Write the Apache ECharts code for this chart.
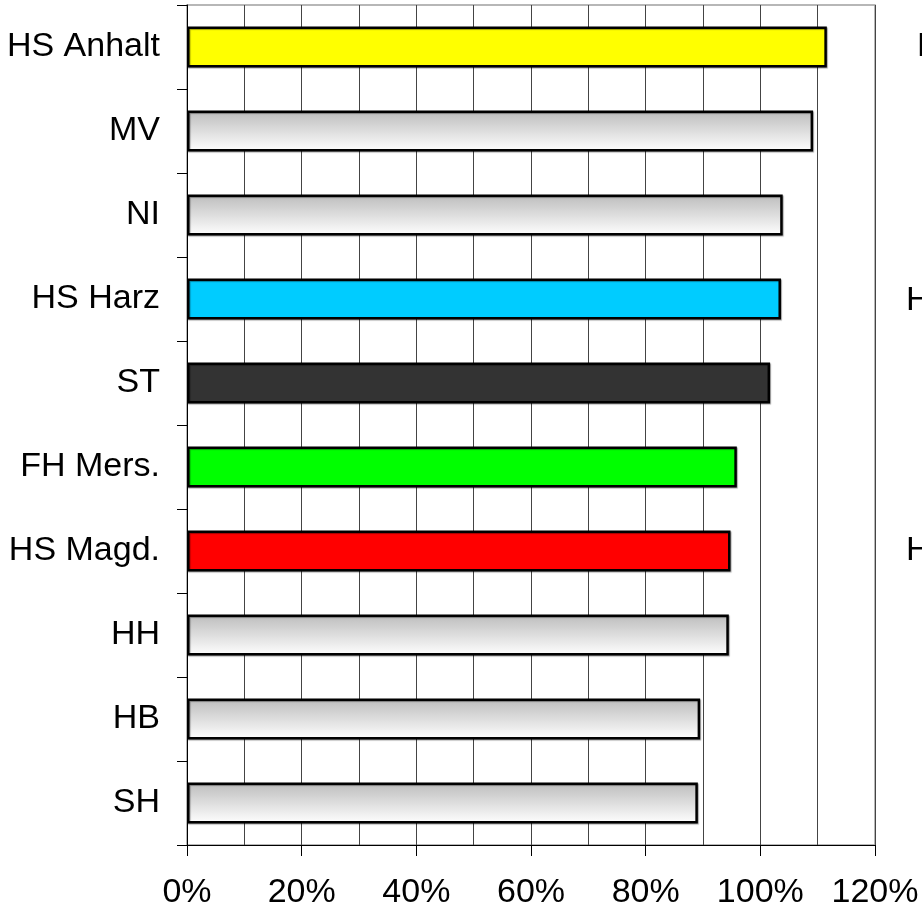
<!DOCTYPE html>
<html>
<head>
<meta charset="utf-8">
<script src="https://cdn.jsdelivr.net/npm/echarts@6/dist/echarts.min.js"></script>
<style>
html,body{margin:0;padding:0;background:#fff;}
#chart{width:922px;height:915px;}
</style>
</head>
<body>
<div id="chart"></div>
<script>
var categories = ['HS Anhalt','MV','NI','HS Harz','ST','FH Mers.','HS Magd.','HH','HB','SH'];
var values = [111.6, 109.2, 103.9, 103.6, 101.7, 95.9, 94.8, 94.5, 89.5, 89.1];
var barColors = ['#ffff00', null, null, '#00ccff', '#333333', '#00ff00', '#ff0000', null, null, null];
var tickLabels = ['0%','20%','40%','60%','80%','100%','120%'];
var sideLabels = ['HS Anhalt','HS Harz','HS Magd.'];

var FONT = "'Liberation Sans',Arial,sans-serif";

var grayGrad = new echarts.graphic.LinearGradient(0,0,0,1,[
  {offset:0,color:'#bcbcbc'},
  {offset:1,color:'#ffffff'}
]);

var data = values.map(function(v,i){
  return {value:v, itemStyle:{color: barColors[i] || grayGrad}};
});

var chart = echarts.init(document.getElementById('chart'), null, {renderer:'canvas'});
chart.setOption({
  animation:false,
  backgroundColor:'#ffffff',
  grid:{left:187,right:47,top:5,bottom:70,outerBoundsMode:'none',containLabel:false,show:true,borderColor:'#a0a0a0',borderWidth:1.5,backgroundColor:'transparent'},
  xAxis:{
    type:'value',min:0,max:120,interval:20,
    axisLine:{show:true,lineStyle:{color:'#000',width:1}},
    axisTick:{show:true,length:11,lineStyle:{color:'#000'}},
    axisLabel:{margin:31,fontSize:34,color:'#000',fontFamily:FONT,hideOverlap:false,
      formatter:function(v){return tickLabels[Math.round(v/20)];}},
    splitLine:{show:true,lineStyle:{color:'#444',width:1}},
    minorTick:{show:false,splitNumber:2},
    minorSplitLine:{show:true,lineStyle:{color:'#444',width:1}}
  },
  yAxis:{
    type:'category',data:categories,inverse:true,
    axisLine:{show:true,lineStyle:{color:'#000',width:1}},
    axisTick:{show:true,length:10,lineStyle:{color:'#000'}},
    axisLabel:{margin:27,fontSize:34,color:'#000',fontFamily:FONT},
    splitLine:{show:false}
  },
  series:[{
    type:'bar',data:data,barWidth:'49%',
    itemStyle:{borderColor:'#000',borderWidth:2.5,shadowColor:'rgba(0,0,0,0.35)',shadowOffsetX:1,shadowOffsetY:1,shadowBlur:1}
  }],
  graphic:[
    {type:'text',left:917,top:30,style:{text:sideLabels[0],fontSize:34,fontFamily:FONT,fill:'#000'}},
    {type:'text',left:906,top:284,style:{text:sideLabels[1],fontSize:34,fontFamily:FONT,fill:'#000'}},
    {type:'text',left:906,top:534,style:{text:sideLabels[2],fontSize:34,fontFamily:FONT,fill:'#000'}}
  ]
});
</script>
</body>
</html>
